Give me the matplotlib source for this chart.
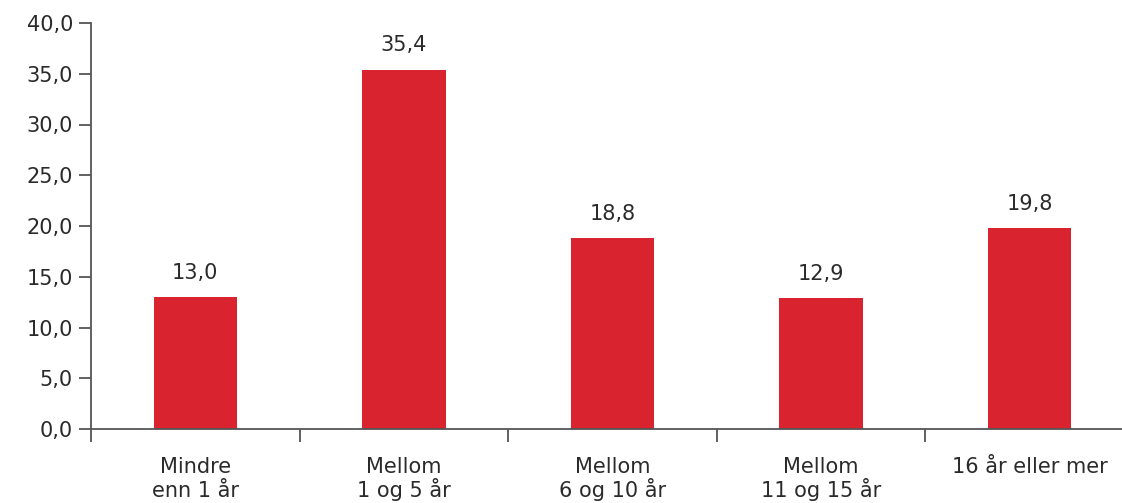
import matplotlib.pyplot as plt
from matplotlib.ticker import FixedLocator, FuncFormatter

# Andel etter ansiennitet (prosent)
categories = ["Mindre\nenn 1 år", "Mellom\n1 og 5 år", "Mellom\n6 og 10 år", "Mellom\n11 og 15 år", "16 år eller mer"]
values = [13.0, 35.4, 18.8, 12.9, 19.8]
yticks = [0, 5, 10, 15, 20, 25, 30, 35, 40]

BAR_COLOR = "#D9232F"
TEXT_COLOR = "#2a2a2a"
AXIS_COLOR = "#555555"

plt.rcParams["font.family"] = "DejaVu Sans"
plt.rcParams["font.size"] = 15

fig = plt.figure(figsize=(11.22, 5.03), dpi=100)
ax = fig.add_axes([91 / 1122, 1 - 429 / 503, (1134 - 91) / 1122, (429 - 23) / 503])

x = list(range(len(categories)))
bars = ax.bar(x, values, width=0.4, color=BAR_COLOR, zorder=2)

# value labels above each bar, Norwegian decimal comma
for xi, v in zip(x, values):
    ax.text(xi, v + 1.4, f"{v:.1f}".replace(".", ","), ha="center", va="bottom",
            color=TEXT_COLOR, fontsize=15)

ax.set_xlim(-0.5, len(categories) - 0.5)
ax.set_ylim(0, 40)
ax.set_yticks(yticks)
ax.yaxis.set_major_formatter(FuncFormatter(lambda v, _: f"{v:.1f}".replace(".", ",")))

# category labels under bars, tick marks between categories
ax.set_xticks(x)
ax.set_xticklabels([])
ax.tick_params(axis="x", which="major", length=0)
ax.xaxis.set_minor_locator(FixedLocator([i - 0.5 for i in range(len(categories) + 1)]))
ax.tick_params(axis="x", which="minor", length=9, width=1.3, color=AXIS_COLOR, direction="out")
# each label line placed on its own baseline so all rows line up
for xi, lab in zip(x, categories):
    for i, line in enumerate(lab.split("\n")):
        ax.annotate(line, xy=(xi, 0), xytext=(0, -(44 + 24 * i)), textcoords="offset pixels",
                    ha="center", va="baseline", color=TEXT_COLOR, fontsize=15,
                    annotation_clip=False)

ax.tick_params(axis="y", length=9, width=1.3, color=AXIS_COLOR, labelcolor=TEXT_COLOR,
               labelsize=15, pad=4)

for side in ["top", "right"]:
    ax.spines[side].set_visible(False)
for side in ["left", "bottom"]:
    ax.spines[side].set_color(AXIS_COLOR)
    ax.spines[side].set_linewidth(1.3)

fig.savefig("out.png", dpi=100)
